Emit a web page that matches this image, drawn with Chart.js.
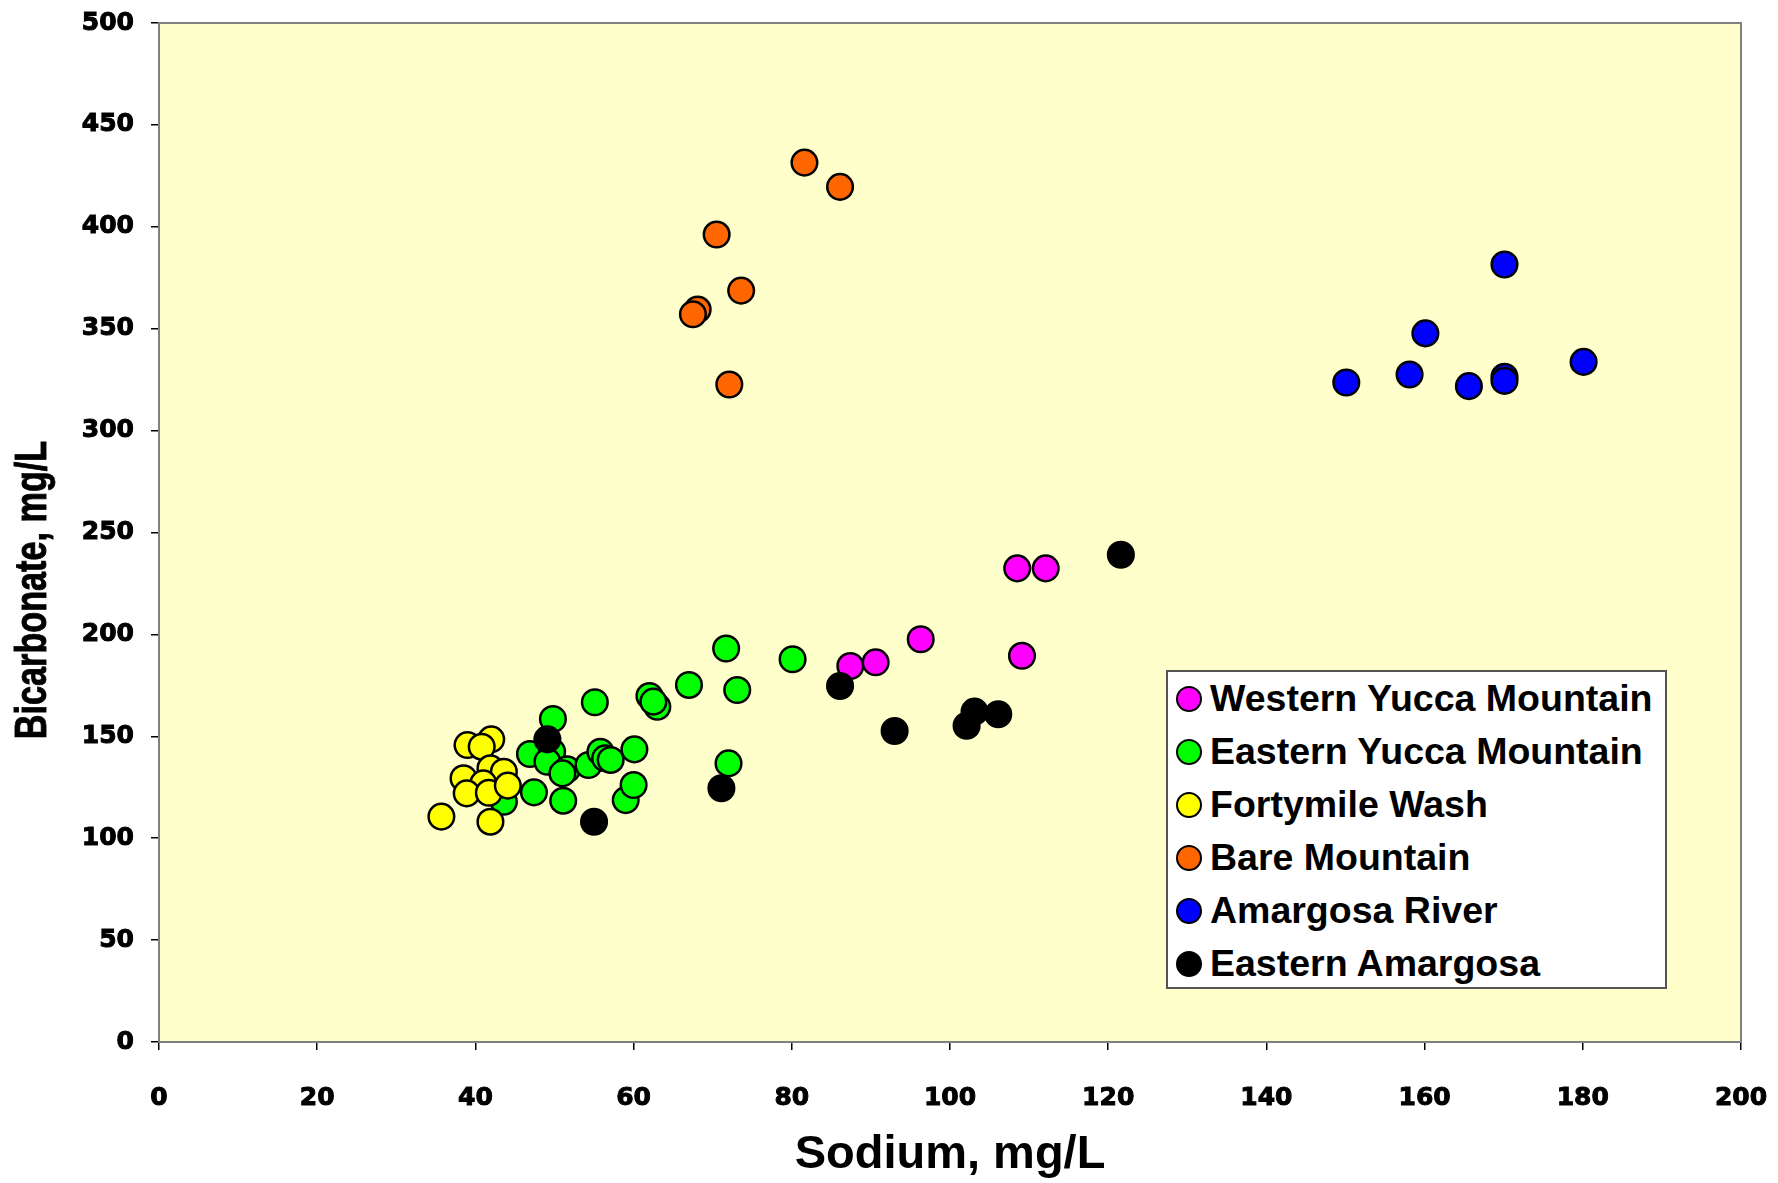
<!DOCTYPE html>
<html>
<head>
<meta charset="utf-8">
<title>Bicarbonate vs Sodium</title>
<script src="https://cdn.jsdelivr.net/npm/chart.js@4.4.1/dist/chart.umd.min.js"></script>
<style>
    html, body { margin: 0; padding: 0; background: #ffffff; }
    #wrap { position: relative; width: 1778px; height: 1183px; }
    #legend {
        position: absolute; left: 1166px; top: 670px; width: 501px; height: 319px;
        box-sizing: border-box;
        background: #ffffff; border: 2px solid #555555;
        font-family: 'Liberation Sans', Arial, sans-serif; font-weight: bold; font-size: 37.5px;
        color: #000000;
    }
    .row { display: flex; align-items: center; height: 53px; white-space: nowrap; }
    .dot { width: 22px; height: 22px; border-radius: 50%; border: 2px solid #000; margin-left: 8px; margin-right: 8px; flex: none; }
</style>
</head>
<body>
<div id="wrap">
    <canvas id="chart" width="1778" height="1183"></canvas>
    <div id="legend"></div>
</div>
<script>
/* =========================================
   DATA
   ========================================= */
const seriesNames = ['Western Yucca Mountain', 'Eastern Yucca Mountain', 'Fortymile Wash',
    'Bare Mountain', 'Amargosa River', 'Eastern Amargosa'];
const seriesColors = ['#ff00ff', '#00ff00', '#ffff00', '#ff6600', '#0000ff', '#000000'];

const westernX = [87.4, 90.6, 96.3, 108.5, 112.1, 109.1];
const westernY = [184.5, 186.3, 197.6, 232.4, 232.4, 189.5];

const easternX = [71.7, 67.0, 73.1, 62.0, 63.0, 62.5, 55.1, 49.8, 46.9, 49.7, 49.1, 51.6, 51.0,
    54.3, 55.8, 56.4, 57.1, 60.1, 47.4, 51.1, 43.6, 59.0, 60.0, 72.0, 80.1];
const easternY = [193.1, 175.2, 172.7, 169.8, 164.5, 167.0, 166.7, 158.5, 141.3, 142.4, 137.5, 133.8, 131.8,
    135.9, 142.4, 139.2, 138.4, 143.6, 122.5, 118.4, 117.9, 118.7, 126.1, 136.7, 187.8];

const fortymileX = [35.7, 39.0, 42.0, 40.8, 41.9, 43.6, 38.5, 41.0, 38.9, 41.7, 44.1, 41.9];
const fortymileY = [110.6, 145.7, 148.5, 144.9, 134.3, 132.6, 129.4, 126.9, 122.0, 122.3, 125.8, 108.1];

const bareX = [81.6, 86.1, 70.5, 73.6, 68.1, 67.5, 72.1];
const bareY = [431.5, 419.6, 396.2, 368.7, 359.4, 357.1, 322.6];

const amargosaX = [170.1, 160.1, 150.1, 158.1, 165.6, 170.1, 170.1, 180.1];
const amargosaY = [381.5, 347.7, 323.6, 327.5, 321.8, 326.4, 324.4, 333.7];

const eastAmX = [49.1, 55.0, 71.1, 86.1, 93.0, 102.1, 103.1, 106.1, 121.6];
const eastAmY = [148.5, 108.1, 124.5, 174.7, 152.6, 155.2, 162.1, 160.8, 239.1];

const xTicks = [0, 20, 40, 60, 80, 100, 120, 140, 160, 180, 200];
const yTicks = [0, 50, 100, 150, 200, 250, 300, 350, 400, 450, 500];

const FONT = "'Liberation Sans', Arial, sans-serif";
const TICK_FONT = "'DejaVu Sans', Verdana, sans-serif";

function pts(xs, ys) {
    return xs.map((x, i) => ({ x: x, y: ys[i] }));
}

const allSeries = [
    pts(westernX, westernY),
    pts(easternX, easternY),
    pts(fortymileX, fortymileY),
    pts(bareX, bareY),
    pts(amargosaX, amargosaY),
    pts(eastAmX, eastAmY)
];

/* =========================================
   PLUGINS: plot background + y title
   ========================================= */
const plotFrame = {
    id: 'plotFrame',
    beforeDraw(chart) {
        const { ctx, chartArea: a } = chart;
        ctx.save();
        ctx.fillStyle = '#ffffff';
        ctx.fillRect(0, 0, chart.width, chart.height);
        ctx.fillStyle = '#ffffcc';
        ctx.fillRect(a.left, a.top, a.right - a.left, a.bottom - a.top);
        ctx.restore();
    },
    beforeDatasetsDraw(chart) {
        const { ctx, chartArea: a } = chart;
        ctx.save();
        ctx.strokeStyle = '#808080';
        ctx.lineWidth = 2;
        ctx.strokeRect(a.left, a.top, a.right - a.left, a.bottom - a.top);
        ctx.restore();
    },
    afterDraw(chart) {
        // condensed, rotated axis title like the original
        const ctx = chart.ctx;
        ctx.save();
        ctx.translate(34, 590);
        ctx.rotate(-Math.PI / 2);
        ctx.scale(0.9, 1.15);
        ctx.font = 'bold 38px ' + FONT;
        ctx.fillStyle = '#000000';
        ctx.strokeStyle = '#000000';
        ctx.lineWidth = 0.8;
        ctx.textAlign = 'center';
        ctx.textBaseline = 'middle';
        ctx.fillText('Bicarbonate, mg/L', 0, 0);
        ctx.strokeText('Bicarbonate, mg/L', 0, 0);
        ctx.restore();
    }
};

/* =========================================
   CHART
   ========================================= */
const datasets = allSeries.map((data, i) => ({
    label: seriesNames[i],
    data: data,
    backgroundColor: seriesColors[i],
    borderColor: '#000000',
    borderWidth: 2.5,
    pointRadius: 12.8,
    pointHoverRadius: 12.8,
    showLine: false,
    order: allSeries.length - i   // later series on top, as in the original
}));

const tickStyle = {
    color: '#000',
    font: { family: TICK_FONT, size: 25, weight: 'bold' },
    textStrokeColor: '#000',
    textStrokeWidth: 1
};

new Chart(document.getElementById('chart'), {
    type: 'scatter',
    data: { datasets: datasets },
    options: {
        responsive: false,
        animation: false,
        layout: { padding: { top: 23, right: 37, left: 0, bottom: 0 } },
        plugins: {
            legend: { display: false },
            tooltip: { enabled: false }
        },
        scales: {
            x: {
                type: 'linear',
                min: 0, max: 200,
                afterBuildTicks: s => { s.ticks = xTicks.map(v => ({ value: v })); },
                afterFit: s => { s.height = 141; s.paddingLeft = 0; s.paddingRight = 0; },
                ticks: Object.assign({ padding: 33 }, tickStyle),
                grid: { drawOnChartArea: false, drawTicks: true, tickLength: 8, color: '#000', lineWidth: 1.5 },
                border: { display: true, color: '#333', width: 2 },
                title: {
                    display: true, text: 'Sodium, mg/L', color: '#000',
                    font: { family: FONT, size: 47, weight: 'bold' }, padding: { top: 0, bottom: 0 }
                }
            },
            y: {
                type: 'linear',
                min: 0, max: 500,
                afterBuildTicks: s => { s.ticks = yTicks.map(v => ({ value: v })); },
                afterFit: s => { s.width = 159; s.paddingTop = 0; s.paddingBottom = 0; },
                ticks: Object.assign({ padding: 17 }, tickStyle),
                grid: { drawOnChartArea: false, drawTicks: true, tickLength: 8, color: '#000', lineWidth: 1.5 },
                border: { display: true, color: '#555', width: 2 }
            }
        }
    },
    plugins: [plotFrame]
});

/* =========================================
   LEGEND (html box inside the plot)
   ========================================= */
const legendEl = document.getElementById('legend');
seriesNames.forEach((name, i) => {
    const row = document.createElement('div');
    row.className = 'row';
    row.innerHTML = `<span class="dot" style="background:${seriesColors[i]}"></span><span>${name}</span>`;
    legendEl.appendChild(row);
});
</script>
</body>
</html>
